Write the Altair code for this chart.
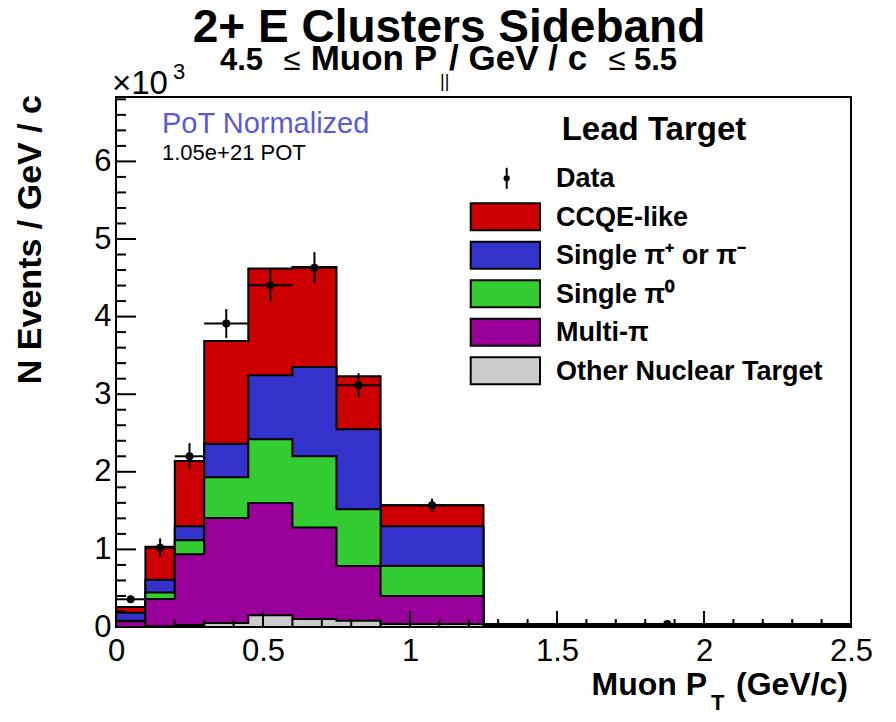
import altair as alt
import numpy as np
import pandas as pd

FONT = "Liberation Sans"

# ---------------- data ----------------
# bin edges of Muon P_T (GeV/c)
edges = [0.0, 0.1, 0.2, 0.3, 0.45, 0.6, 0.75, 0.9, 1.25, 2.5]

# stacked MC components (N events / GeV / c), bottom to top
other_nuc = [0, 10, 25, 52, 151, 103, 80, 40, 5]
multi_pi = [75, 350, 912, 1353, 1447, 1178, 706, 360, 10]
single_pi0 = [5, 85, 180, 524, 821, 919, 731, 386, 6]
single_pipm = [105, 165, 181, 434, 825, 1151, 1031, 512, 7]
ccqe_like = [73, 425, 841, 1323, 1375, 1288, 683, 270, 5]

# data points
data_vals = [357, 1022, 2200, 3910, 4403, 4631, 3115, 1568, 40]
data_errs = [45, 120, 170, 187, 210, 200, 155, 86, 15]

# legend (top to bottom) and colours
legend_labels = ["CCQE-like", "Single π⁺ or π⁻", "Single π⁰", "Multi-π", "Other Nuclear Target"]
legend_colors = ["#cc0000", "#3333cc", "#33cc33", "#990099", "#cccccc"]

# axis ticks
x_major = [0.0, 0.5, 1.0, 1.5, 2.0, 2.5]
x_minor = [0.1, 0.2, 0.3, 0.4, 0.6, 0.7, 0.8, 0.9, 1.1, 1.2, 1.3, 1.4,
           1.6, 1.7, 1.8, 1.9, 2.1, 2.2, 2.3, 2.4]
y_major = [0, 1000, 2000, 3000, 4000, 5000, 6000]
y_minor = [v for v in range(200, 6900, 200) if v % 1000 != 0]

W, H = 735, 530
X_DOMAIN = [0, 2.5]
Y_DOMAIN = [0, 6830]

xs = alt.Scale(domain=X_DOMAIN, nice=False, zero=False)
ys = alt.Scale(domain=Y_DOMAIN, nice=False, zero=True)
xaxis = alt.Axis(values=x_major, format="~g", ticks=False, domain=False, grid=False,
                 labelFont=FONT, labelFontSize=31, labelColor="black", labelPadding=33,
                 labelBaseline="alphabetic", labelFlush=False, labelOverlap=False,
                 title=None)
yaxis = alt.Axis(values=y_major, labelExpr="datum.value / 1000", ticks=False, domain=False,
                 grid=False, labelFont=FONT, labelFontSize=31, labelColor="black",
                 labelPadding=5, labelAlign="right", labelBaseline="middle",
                 labelFlush=False, labelOverlap=False, title=None)


def X(f):
    return alt.X(f, scale=xs, axis=xaxis)


def Y(f):
    return alt.Y(f, scale=ys, axis=yaxis)


layers = []

# ---------------- stacked histogram (cumulative step areas) ----------------
comps_bottom_up = [other_nuc, multi_pi, single_pi0, single_pipm, ccqe_like]
colors_bottom_up = legend_colors[::-1]
cums = np.cumsum(np.array(comps_bottom_up, dtype=float), axis=0)

for k in range(len(comps_bottom_up) - 1, -1, -1):
    cum = list(cums[k])
    df = pd.DataFrame({"x": edges, "y": cum + [cum[-1]]})
    layers.append(
        alt.Chart(df).mark_area(interpolate="step-after", color=colors_bottom_up[k], opacity=1)
        .encode(x=X("x:Q"), y=Y("y:Q"))
    )
    layers.append(
        alt.Chart(df).mark_line(interpolate="step-after", color="black", strokeWidth=2)
        .encode(x=X("x:Q"), y=Y("y:Q"))
    )

# ---------------- data points ----------------
lo_e = np.array(edges[:-1])
hi_e = np.array(edges[1:])
ddf = pd.DataFrame({
    "xc": (lo_e + hi_e) / 2,
    "xlo": lo_e,
    "xhi": hi_e,
    "v": data_vals,
    "vlo": np.array(data_vals) - np.array(data_errs),
    "vhi": np.array(data_vals) + np.array(data_errs),
})
layers.append(alt.Chart(ddf).mark_rule(color="black", strokeWidth=2)
              .encode(x=X("xc:Q"), y=Y("vlo:Q"), y2="vhi:Q"))
layers.append(alt.Chart(ddf).mark_rule(color="black", strokeWidth=2)
              .encode(x=X("xlo:Q"), x2="xhi:Q", y=Y("v:Q")))
layers.append(alt.Chart(ddf).mark_point(filled=True, shape="circle", size=64, color="black", opacity=1)
              .encode(x=X("xc:Q"), y=Y("v:Q")))

# ---------------- inward ticks ----------------
layers.append(alt.Chart(pd.DataFrame({"t": y_major})).mark_rule(color="black", strokeWidth=2)
              .encode(y=Y("t:Q"), x=alt.value(0), x2=alt.value(20)))
layers.append(alt.Chart(pd.DataFrame({"t": y_minor})).mark_rule(color="black", strokeWidth=2)
              .encode(y=Y("t:Q"), x=alt.value(0), x2=alt.value(10)))
layers.append(alt.Chart(pd.DataFrame({"t": x_major})).mark_rule(color="black", strokeWidth=2)
              .encode(x=X("t:Q"), y=alt.value(H), y2=alt.value(H - 16)))
layers.append(alt.Chart(pd.DataFrame({"t": x_minor})).mark_rule(color="black", strokeWidth=2)
              .encode(x=X("t:Q"), y=alt.value(H), y2=alt.value(H - 8)))

# frame
layers.append(alt.Chart(pd.DataFrame({"a": [0]})).mark_rect(fillOpacity=0, stroke="black", strokeWidth=2)
              .encode(x=alt.value(0), x2=alt.value(W), y=alt.value(0), y2=alt.value(H)))


# ---------------- texts ----------------
def txt(s, x, y, size, bold=False, align="left", baseline="alphabetic", color="black", angle=None):
    props = dict(text=s, font=FONT, fontSize=size, fontWeight="bold" if bold else "normal",
                 align=align, baseline=baseline, color=color)
    if angle is not None:
        props["angle"] = angle
    return alt.Chart(pd.DataFrame({"a": [0]})).mark_text(**props).encode(
        x=alt.value(x), y=alt.value(y))


# title
layers.append(txt("2+ E Clusters Sideband", 333, -55, 46, bold=True, align="center"))
# subtitle (pieces placed as in the original TLatex layout)
layers.append(txt("4.5", 104, -27, 31, bold=True))
layers.append(txt("≤", 176, -27, 31, align="center"))
layers.append(txt("Muon P", 321, -27, 35, bold=True, align="right"))
layers.append(txt("||", 324, -10, 18))
layers.append(txt("/ GeV / c", 333, -27, 35, bold=True))
layers.append(txt("≤", 501, -27, 31, align="center"))
layers.append(txt("5.5", 561, -27, 31, bold=True, align="right"))

# ×10^3
layers.append(txt("×10", -4, -3, 33))
layers.append(txt("3", 57, -18, 22))

# y title
layers.append(txt("N Events / GeV / c", -75, -2, 34, bold=True, align="right", angle=270))
# x title
layers.append(txt("Muon P", 591, 598, 32, bold=True, align="right"))
layers.append(txt("T", 595, 613, 22, bold=True))
layers.append(txt("(GeV/c)", 732, 598, 32, bold=True, align="right"))

# annotations
layers.append(txt("PoT Normalized", 46, 36, 29, color="#5a5ad6"))
layers.append(txt("1.05e+21 POT", 46, 63, 22))

# legend
layers.append(txt("Lead Target", 538, 43, 33, bold=True, align="center"))
row0 = 81.3
step = 38.5
layers.append(alt.Chart(pd.DataFrame({"a": [0]})).mark_rule(color="black", strokeWidth=2)
              .encode(x=alt.value(390.7), y=alt.value(row0 - 10.5), y2=alt.value(row0 + 10.5)))
layers.append(alt.Chart(pd.DataFrame({"a": [0]})).mark_point(filled=True, shape="circle", size=40,
                                                          color="black", opacity=1)
              .encode(x=alt.value(390.7), y=alt.value(row0)))
layers.append(txt("Data", 440, row0 + 9, 27, bold=True))
for i, (lab, col) in enumerate(zip(legend_labels, legend_colors)):
    cy = row0 + (i + 1) * step
    layers.append(alt.Chart(pd.DataFrame({"a": [0]})).mark_rect(fill=col, stroke="black", strokeWidth=2)
                  .encode(x=alt.value(354.7), x2=alt.value(424), y=alt.value(cy - 13.5),
                          y2=alt.value(cy + 13.5)))
    layers.append(txt(lab, 440, cy + 9, 27, bold=True))

chart = alt.layer(*layers).properties(
    width=W, height=H,
    padding={"left": 108, "top": 89, "right": 37, "bottom": 87},
    autosize=alt.AutoSizeParams(type="none"),
    background="white",
).configure_view(strokeWidth=0)

chart.save("out.html", embed_options={"renderer": "svg", "actions": False})
